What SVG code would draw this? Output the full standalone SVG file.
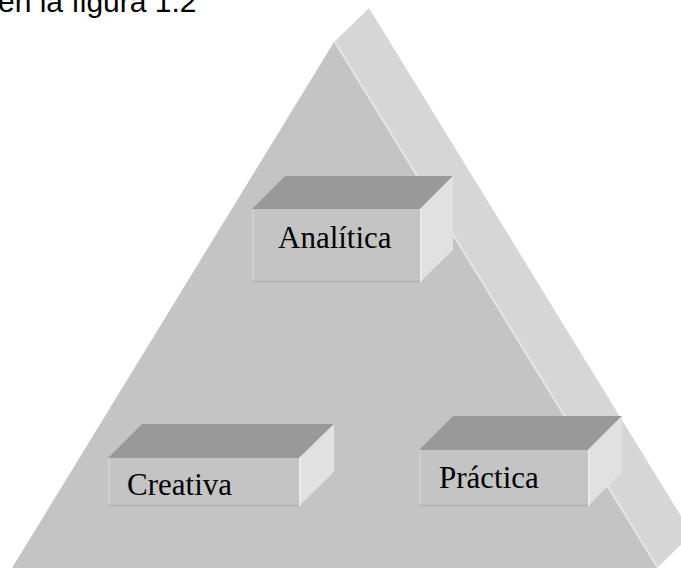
<svg xmlns="http://www.w3.org/2000/svg" width="681" height="570" viewBox="0 0 681 570">
<style>
.front{fill:#c4c4c4}
.side{fill:#d6d6d6}
.btop{fill:#999999}
.bright{fill:#e1e1e1}
.bface{fill:#c4c4c4}
.hl{stroke:#d2d2d2;stroke-width:1.5;fill:none}
.sh{stroke:#b2b2b2;stroke-width:1.5;fill:none}
.lbl{font-family:"Liberation Serif","Times New Roman",serif;font-size:31px;fill:#000}
.cap{font-family:"Liberation Sans",Arial,sans-serif;font-size:30px;fill:#000}
</style>
<rect width="681" height="570" fill="#ffffff"/>
<text class="cap" x="-2" y="12">en la figura 1.2</text>
<g id="pyramid">
<polygon class="side" points="334,42 369,8 692,534 657,568"/>
<polygon class="front" points="334,42 12,568 657,568"/>
<line x1="335" y1="42" x2="658" y2="568" stroke="#e4e4e4" stroke-width="2"/>
</g>
<g id="connectors"></g>
<g id="analitica">
<polygon class="btop" points="252,209 285,176 453,176 420,209"/>
<polygon class="bright" points="420,209 453,176 453,250 420,282"/>
<line x1="421" y1="209" x2="421" y2="282" stroke="#ececec" stroke-width="1.5"/>
<rect class="bface" x="252" y="209" width="168" height="73"/>
<line class="hl" x1="253" y1="209" x2="253" y2="282"/>
<line class="sh" x1="252" y1="281.5" x2="420" y2="281.5"/>
<text class="lbl" x="278" y="248">Analítica</text>
</g>
<g id="creativa">
<polygon class="btop" points="108,458 142,424 334,424 299,458"/>
<polygon class="bright" points="299,458 334,424 334,472 299,506"/>
<line x1="300" y1="458" x2="300" y2="506" stroke="#ececec" stroke-width="1.5"/>
<rect class="bface" x="108" y="458" width="191" height="48"/>
<line class="hl" x1="109" y1="458" x2="109" y2="506"/>
<line class="sh" x1="108" y1="505.5" x2="299" y2="505.5"/>
<text class="lbl" x="127" y="495">Creativa</text>
</g>
<g id="practica">
<polygon class="btop" points="419,450 453,416 622,416 588,450"/>
<polygon class="bright" points="588,450 622,416 622,472 588,506"/>
<line x1="589" y1="450" x2="589" y2="506" stroke="#ececec" stroke-width="1.5"/>
<rect class="bface" x="419" y="450" width="169" height="56"/>
<line class="hl" x1="420" y1="450" x2="420" y2="506"/>
<line class="sh" x1="419" y1="505.5" x2="588" y2="505.5"/>
<text class="lbl" x="439" y="488">Práctica</text>
</g>
</svg>
